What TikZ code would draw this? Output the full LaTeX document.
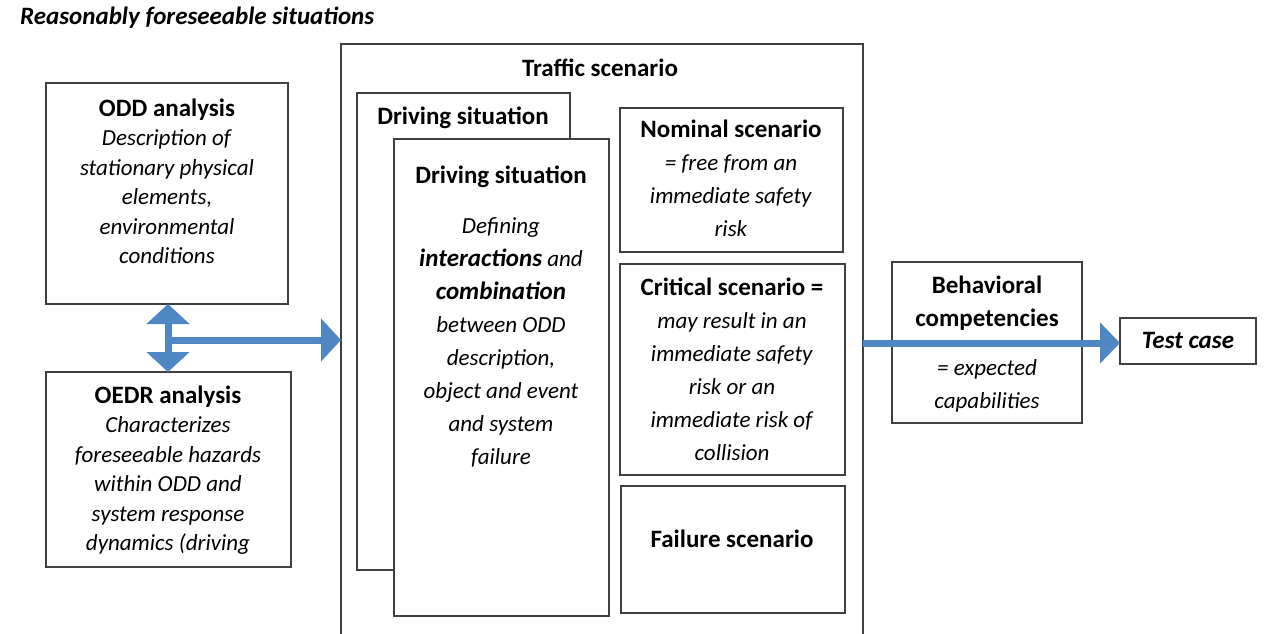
\documentclass[tikz,border=0pt]{standalone}
\usepackage{fontspec}
\setmainfont{Carlito}
\usetikzlibrary{arrows.meta}
\definecolor{boxgray}{HTML}{404040}
\definecolor{arrowblue}{HTML}{4F87C5}
\newcommand\mybox[5]{\node[boxst, minimum width={(#4-#2)*1pt}, minimum height={(#5-#3)*1pt}] (#1) at (#2,#3) {};}
\newcommand\fl{\rule{0pt}{20pt}}
\newcommand\bb[1]{{\fontsize{25}{30}\selectfont\bfseries #1}}
\begin{document}
\begin{tikzpicture}[x=1pt,y=-1pt,
  boxst/.style={draw=boxgray, line width=1.4pt, fill=white, inner sep=0pt, outer sep=0pt, anchor=north west},
  txt/.style={align=center, inner sep=0pt, anchor=north, font=\fontsize{23}{29.5}\selectfont},
  txtb/.style={align=center, inner sep=0pt, anchor=north, font=\fontsize{23}{33}\selectfont},
  bluearrow/.style={line width=7pt, arrowblue}
]
\useasboundingbox (0,0) rectangle (1266,633);
\clip (0,0) rectangle (1266,633);
% title
\node[txt, anchor=north west] (title) at (20,4) {\fl\bb{\itshape Reasonably foreseeable situations}};
% boxes
\mybox{traffic}{341}{44}{863}{660}
\mybox{drvback}{357}{93}{570}{570}
\mybox{drvfront}{394}{139}{609}{616}
\mybox{nominal}{620}{108}{843}{252}
\mybox{critical}{620}{264}{845}{475}
\mybox{failure}{621}{486}{845}{613}
\mybox{behav}{892}{262}{1082}{423}
\mybox{test}{1120}{318}{1256}{364}
\mybox{odd}{46}{83}{288}{304}
\mybox{oedr}{46}{372}{291}{567}
% texts
\node[txt] (oddt) at (167,96) {\fl\bb{ODD analysis}\\ \textit{Description of}\\ \textit{stationary physical}\\ \textit{elements,}\\ \textit{environmental}\\ \textit{conditions}};
\begin{scope}
\clip (oedr.north west) rectangle (oedr.south east);
\node[txt] (oedrt) at (168,383) {\fl\bb{OEDR analysis}\\ \textit{Characterizes}\\ \textit{foreseeable hazards}\\ \textit{within ODD and}\\ \textit{system response}\\ \textit{dynamics (driving}};
\end{scope}
\node[txt] (traffict) at (600,56) {\fl\bb{Traffic scenario}};
\node[txt] (drvbackt) at (463,104) {\fl\bb{Driving situation}};
\node[txtb] (drvfrontt) at (501,163) {\fl\bb{Driving situation}\\[17pt] \textit{Defining}\\ \textit{\bb{\itshape interactions} and}\\ \bb{\itshape combination}\\ \textit{between ODD}\\ \textit{description,}\\ \textit{object and event}\\ \textit{and system}\\ \textit{failure}};
\node[txtb] (nominalt) at (731,117) {\fl\bb{Nominal scenario}\\ \textit{= free from an}\\ \textit{immediate safety}\\ \textit{risk}};
\node[txtb] (criticalt) at (732,275) {\fl\bb{Critical scenario =}\\ \textit{may result in an}\\ \textit{immediate safety}\\ \textit{risk or an}\\ \textit{immediate risk of}\\ \textit{collision}};
\node[txtb] (failuret) at (732,527) {\fl\bb{Failure scenario}};
\node[txtb] (behavt) at (987,273) {\fl\bb{Behavioral}\\ \bb{competencies}\\[16pt] \textit{= expected}\\ \textit{capabilities}};
\node[txt] (testt) at (1188,328) {\fl\bb{\itshape Test case}};
% arrows
\coordinate (junc) at (168,340);
\draw[bluearrow, {Triangle[length=20pt,width=42pt]}-{Triangle[length=20pt,width=42pt]}] (odd.south -| junc) -- (oedr.north -| junc);
\draw[bluearrow, -{Triangle[length=20pt,width=42pt]}] (junc) -- (junc -| traffic.west);
\draw[bluearrow, -{Triangle[length=20pt,width=40pt]}] (traffic.east |- 0,343) -- (test.west |- 0,343);
\end{tikzpicture}
\end{document}
